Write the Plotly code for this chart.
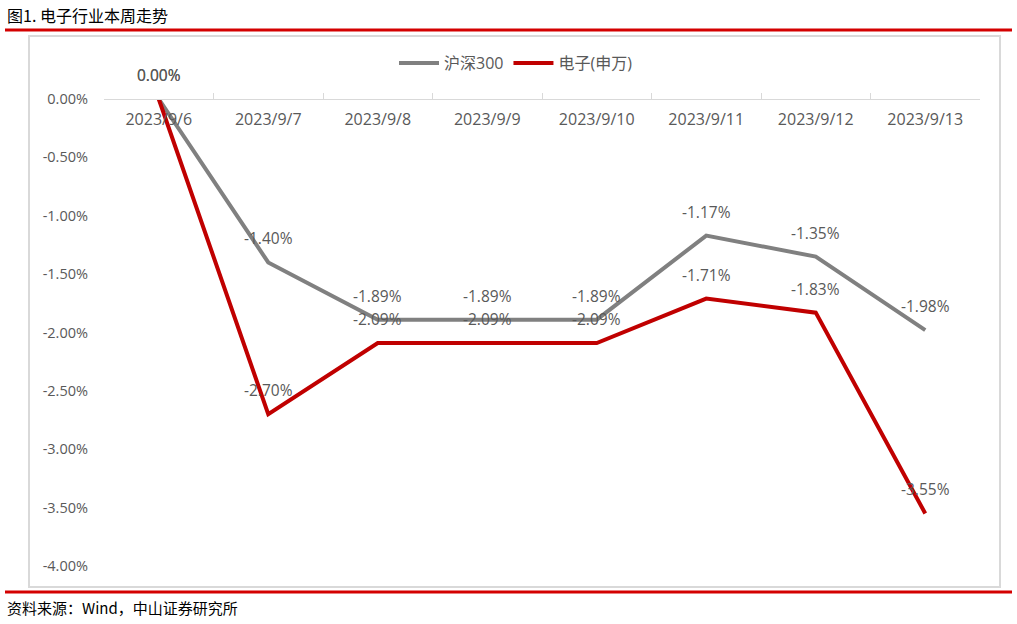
import plotly.graph_objects as go

dates = ["2023/9/6", "2023/9/7", "2023/9/8", "2023/9/9", "2023/9/10", "2023/9/11", "2023/9/12", "2023/9/13"]
hs300 = [0.00, -1.40, -1.89, -1.89, -1.89, -1.17, -1.35, -1.98]
dianzi = [0.00, -2.70, -2.09, -2.09, -2.09, -1.71, -1.83, -3.55]
yticks = [0, -0.5, -1.0, -1.5, -2.0, -2.5, -3.0, -3.5, -4.0]
ytick_text = ["0.00%", "-0.50%", "-1.00%", "-1.50%", "-2.00%", "-2.50%", "-3.00%", "-3.50%", "-4.00%"]

GRAY = "#808080"
RED = "#C00000"
TXT = "#595959"
FONT = "Open Sans, Noto Sans CJK SC, sans-serif"

fig = go.Figure()
fig.add_trace(go.Scatter(x=dates, y=hs300, mode="lines", name="沪深300",
                         line=dict(color=GRAY, width=4), cliponaxis=False))
fig.add_trace(go.Scatter(x=dates, y=dianzi, mode="lines", name="电子(申万)",
                         line=dict(color=RED, width=4), cliponaxis=False))

anns = []
for series in (hs300, dianzi):
    for d, v in zip(dates, series):
        anns.append(dict(x=d, y=v, xref="x", yref="y", text=f"{v:.2f}%", showarrow=False,
                         yshift=24, font=dict(family=FONT, size=15.5, color=TXT)))

L, R, T, B = 104, 980, 99, 566
W, H = R - L, B - T
px = lambda x: (x - L) / W
py = lambda y: (B - y) / H

anns.append(dict(x=px(5), y=py(15), xref="paper", yref="paper", xanchor="left", yanchor="middle",
                 text="图1. 电子行业本周走势", showarrow=False,
                 font=dict(family="Noto Sans CJK SC", size=16, color="#000000")))
anns.append(dict(x=px(5), y=py(607), xref="paper", yref="paper", xanchor="left", yanchor="middle",
                 text="资料来源：Wind，中山证券研究所", showarrow=False,
                 font=dict(family="Noto Sans CJK SC", size=15, color="#000000")))

shapes = [
    dict(type="line", xref="paper", yref="paper", x0=px(5), x1=px(1012), y0=py(30), y1=py(30),
         line=dict(color="#D40000", width=3)),
    dict(type="rect", xref="paper", yref="paper", x0=px(29), x1=px(1000), y0=py(587), y1=py(36),
         line=dict(color="#D9D9D9", width=2)),
    dict(type="line", xref="paper", yref="paper", x0=px(5), x1=px(1012), y0=py(592), y1=py(592),
         line=dict(color="#D40000", width=3)),
]

fig.update_layout(
    width=1017, height=624,
    margin=dict(l=L, r=1017 - R, t=T, b=624 - B, pad=0),
    paper_bgcolor="white", plot_bgcolor="white",
    showlegend=True,
    legend=dict(orientation="h", x=px(516), y=py(63), xanchor="center", yanchor="middle",
                font=dict(family=FONT, size=16, color=TXT), itemwidth=40, bgcolor="rgba(0,0,0,0)"),
    xaxis=dict(type="category", anchor="free", position=1, side="bottom",
               showline=True, linecolor="#D9D9D9", linewidth=1,
               ticks="inside", ticklen=6, tickcolor="#D9D9D9", tickson="boundaries",
               showgrid=False, zeroline=False,
               tickfont=dict(family=FONT, size=16, color=TXT), ticklabelstandoff=6,
               range=[-0.5, 7.5]),
    yaxis=dict(range=[-4, 0], tickvals=yticks, ticktext=ytick_text, showgrid=False,
               zeroline=False, showline=False,
               tickfont=dict(family=FONT, size=14.5, color=TXT), ticklabelstandoff=15),
    annotations=anns, shapes=shapes,
)

fig.write_html("out.html", config={"displayModeBar": False},
               post_script="document.body.style.margin='0';")
